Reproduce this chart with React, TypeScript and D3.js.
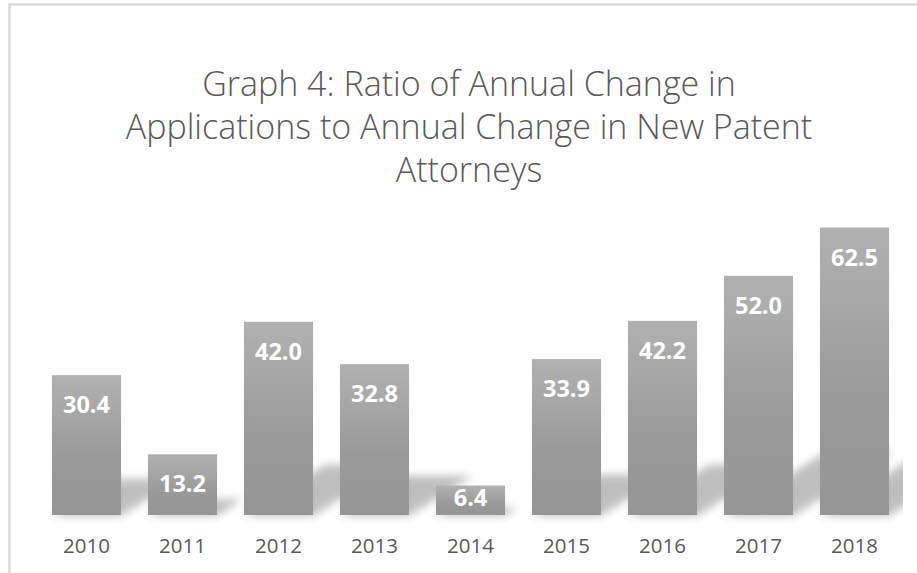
import React from "react";
import * as d3 from "d3";

const years = ["2010", "2011", "2012", "2013", "2014", "2015", "2016", "2017", "2018"];
const ratios = [30.4, 13.2, 42.0, 32.8, 6.4, 33.9, 42.2, 52.0, 62.5];
const titleLines = [
  "Graph 4: Ratio of Annual Change in",
  "Applications to Annual Change in New Patent",
  "Attorneys",
];

const W = 917;
const H = 573;

export default function App() {
  const x = d3.scaleBand<string>().domain(years).range([38.5, 902.5]).paddingInner(0.28).paddingOuter(0.14);
  const y = d3.scaleLinear().domain([0, 70]).range([515, 193]);
  const base = y(0);
  const bw = x.bandwidth();

  return (
    <svg width={W} height={H} style={{ position: "absolute", left: 0, top: 0, display: "block" }} xmlns="http://www.w3.org/2000/svg">
      <defs>
        <linearGradient id="barGrad" x1="0" y1="0" x2="0" y2="1">
          <stop offset="0%" stopColor="#b1b1b1" />
          <stop offset="60%" stopColor="#9a9a9a" />
          <stop offset="100%" stopColor="#959595" />
        </linearGradient>
        <filter id="blur" x="-20%" y="-20%" width="140%" height="140%">
          <feGaussianBlur stdDeviation="4" />
        </filter>
        <clipPath id="plotClip">
          <rect x={30} y={150} width={873} height={375} />
        </clipPath>
      </defs>
      <rect x={0} y={0} width={W} height={H} fill="#ffffff" />
      <rect x={9.5} y={4.5} width={1000} height={700} fill="#ffffff" stroke="#d9d9d9" strokeWidth={2.5} />

      {titleLines.map((t, i) => (
        <text
          key={i}
          x={469}
          y={96 + i * 43}
          textAnchor="middle"
          fontFamily="'Open Sans', 'DejaVu Sans', sans-serif"
          fontWeight={300}
          fontSize={34}
          fill="#595959"
        >
          {t}
        </text>
      ))}

      <g clipPath="url(#plotClip)">
        <g filter="url(#blur)" opacity={0.25}>
          {years.map((yr, i) => {
            const h = base - y(ratios[i]);
            const x0 = x(yr)!;
            const x1 = x0 + bw;
            const s = h * 0.26;
            const d = h * 0.42;
            const pts = [
              [x0, base + 1],
              [x1, base + 1],
              [x1 + d, base - s],
              [x0 + d, base - s],
            ];
            return <polygon key={yr} points={pts.map((p) => p.join(",")).join(" ")} fill="#000" />;
          })}
        </g>
      </g>

      {years.map((yr, i) => {
        const top = y(ratios[i]);
        const h = base - top;
        return (
          <rect key={yr} x={x(yr)} y={top} width={bw} height={h} fill="url(#barGrad)" />
        );
      })}

      {years.map((yr, i) => {
        const top = y(ratios[i]);
        const h = base - top;
        const ly = h >= 44 ? top + 38 : top + h / 2 + 6;
        return (
          <text
            key={yr}
            x={x(yr)! + bw / 2}
            y={ly}
            textAnchor="middle"
            fontFamily="'Open Sans', 'DejaVu Sans', sans-serif"
            fontWeight={700}
            fontSize={23.5}
            fill="#ffffff"
          >
            {ratios[i].toFixed(1)}
          </text>
        );
      })}

      {years.map((yr) => (
        <text
          key={yr}
          x={x(yr)! + bw / 2}
          y={553}
          textAnchor="middle"
          fontFamily="'Open Sans', 'DejaVu Sans', sans-serif"
          fontSize={20.5}
          fill="#595959"
        >
          {yr}
        </text>
      ))}
    </svg>
  );
}
